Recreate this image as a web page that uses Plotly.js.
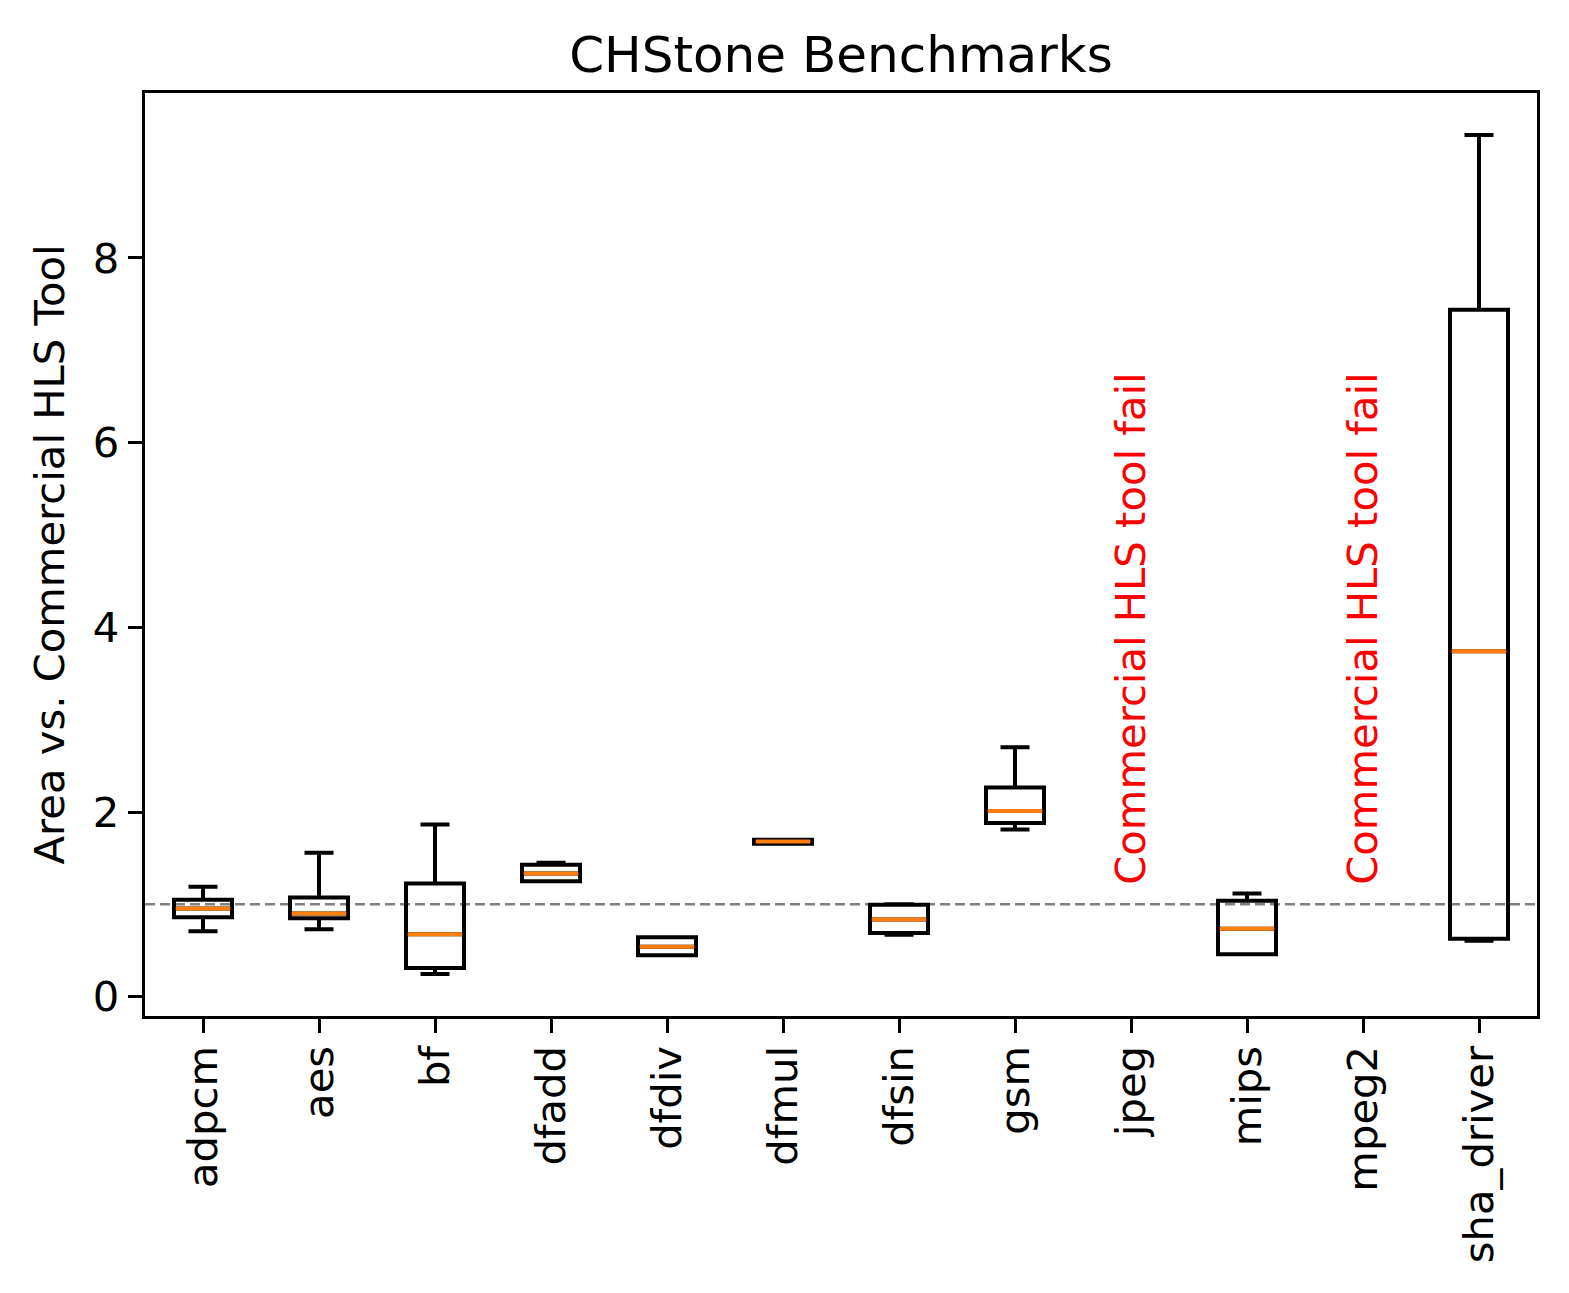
<!DOCTYPE html>
<html>
<head>
<meta charset="utf-8">
<script src="https://cdn.plot.ly/plotly-3.0.1.min.js"></script>
<style>html,body{margin:0;padding:0;background:#fff;}#chart{width:1569px;height:1293px;}</style>
</head>
<body>
<div id="chart"></div>
<script>
// All benchmark labels on the x axis
const categories = ['adpcm','aes','bf','dfadd','dfdiv','dfmul','dfsin','gsm','jpeg','mips','mpeg2','sha_driver'];
// Benchmarks with box statistics (jpeg, mpeg2 failed)
const boxCats   = ['adpcm','aes','bf','dfadd','dfdiv','dfmul','dfsin','gsm','mips','sha_driver'];
const lowerWhisker = [0.71, 0.73, 0.245, 1.25, 0.45, 1.655, 0.67, 1.81, 0.46, 0.605];
const q1Values     = [0.86, 0.85, 0.31, 1.25, 0.45, 1.655, 0.69, 1.88, 0.46, 0.628];
const medians      = [0.955, 0.90, 0.675, 1.335, 0.54, 1.68, 0.837, 2.01, 0.735, 3.74];
const q3Values     = [1.05, 1.075, 1.225, 1.43, 0.645, 1.70, 0.995, 2.265, 1.04, 7.44];
const upperWhisker = [1.19, 1.56, 1.865, 1.45, 0.645, 1.70, 1.0, 2.70, 1.118, 9.33];
const failedCats = ['jpeg','mpeg2'];
const failText = 'Commercial HLS tool fail';
const refLine = 1.0;

const pos = c => categories.indexOf(c) + 1;
const xs = boxCats.map(pos);

const traces = [
  {
    type: 'box', x: xs,
    q1: q1Values, median: medians, q3: q3Values,
    lowerfence: lowerWhisker, upperfence: upperWhisker,
    width: 0.5, whiskerwidth: 0.5,
    line: {color: '#000000', width: 4},
    fillcolor: 'rgba(0,0,0,0)',
    boxpoints: false, hoverinfo: 'skip', showlegend: false
  },
  {
    type: 'box', x: xs,
    q1: medians, median: medians, q3: medians,
    lowerfence: medians, upperfence: medians,
    width: 0.47, whiskerwidth: 0,
    line: {color: '#ff7f0e', width: 4},
    fillcolor: 'rgba(0,0,0,0)',
    boxpoints: false, hoverinfo: 'skip', showlegend: false
  }
];

const font = {family: 'DejaVu Sans', color: '#000', size: 41.7};

const layout = {
  width: 1569, height: 1293,
  margin: {l: 145, r: 32, t: 93, b: 277, pad: 0},
  paper_bgcolor: '#fff', plot_bgcolor: '#fff',
  font: font,
  showlegend: false,
  title: {text: 'CHStone Benchmarks', font: {family: 'DejaVu Sans', size: 50, color: '#000'},
          x: 0.5, xref: 'paper', y: 1, yref: 'paper', yanchor: 'bottom', pad: {b: 21}},
  xaxis: {
    range: [0.5, 12.5], tickmode: 'array',
    tickvals: categories.map((c, i) => i + 1), ticktext: categories,
    tickangle: -90, ticks: 'outside', ticklen: 14, tickwidth: 3, tickcolor: '#000',
    ticklabelstandoff: -4,
    showline: true, linecolor: '#000', linewidth: 3.3, mirror: true,
    showgrid: false, zeroline: false, tickfont: font
  },
  yaxis: {
    range: [-0.209, 9.786], tickmode: 'array', tickvals: [0, 2, 4, 6, 8],
    ticks: 'outside', ticklen: 14, tickwidth: 3, tickcolor: '#000',
    showline: true, linecolor: '#000', linewidth: 3.3, mirror: true,
    showgrid: false, zeroline: false, tickfont: font,
    title: {text: 'Area vs. Commercial HLS Tool', font: font, standoff: 16}
  },
  shapes: [{
    type: 'line', xref: 'paper', x0: 0, x1: 1, yref: 'y', y0: refLine, y1: refLine,
    line: {color: '#808080', width: 2.5, dash: '10px,5px'}, layer: 'below'
  }],
  annotations: failedCats.map(c => ({
    x: pos(c), y: 1.19, xref: 'x', yref: 'y', text: failText,
    textangle: -90, showarrow: false, xanchor: 'center', yanchor: 'bottom',
    font: {family: 'DejaVu Sans', size: 41.7, color: '#ff0000'}
  }))
};

Plotly.newPlot('chart', traces, layout, {staticPlot: true});
</script>
</body>
</html>
